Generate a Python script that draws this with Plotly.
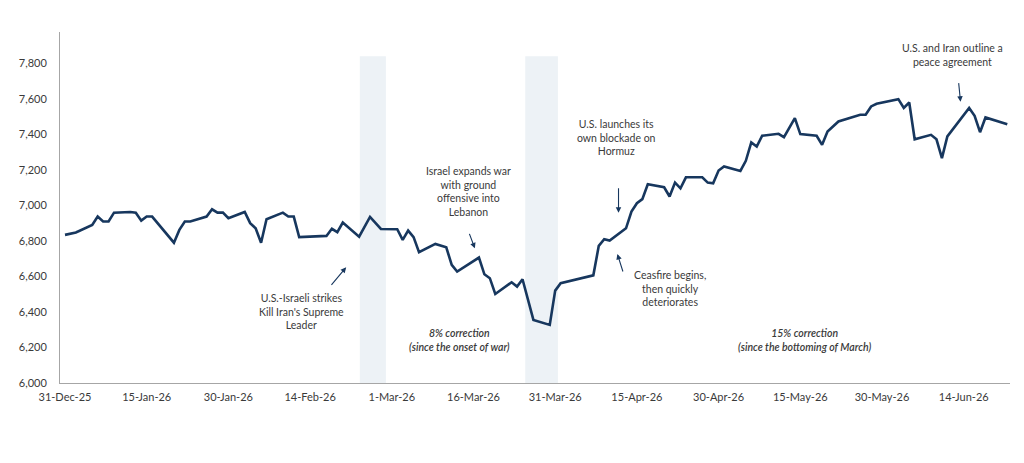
import plotly.graph_objects as go

# ---- data ----
dates = [
    "2025-12-31", "2026-01-02", "2026-01-05", "2026-01-06", "2026-01-07", "2026-01-08", "2026-01-09",
    "2026-01-12", "2026-01-13", "2026-01-14", "2026-01-15", "2026-01-16",
    "2026-01-20", "2026-01-21", "2026-01-22", "2026-01-23",
    "2026-01-26", "2026-01-27", "2026-01-28", "2026-01-29", "2026-01-30",
    "2026-02-02", "2026-02-03", "2026-02-04", "2026-02-05", "2026-02-06",
    "2026-02-09", "2026-02-10", "2026-02-11", "2026-02-12",
    "2026-02-17", "2026-02-18", "2026-02-19", "2026-02-20",
    "2026-02-23", "2026-02-25", "2026-02-27",
    "2026-03-02", "2026-03-03", "2026-03-04", "2026-03-05", "2026-03-06",
    "2026-03-09", "2026-03-11", "2026-03-12", "2026-03-13",
    "2026-03-17", "2026-03-18", "2026-03-19", "2026-03-20",
    "2026-03-23", "2026-03-24", "2026-03-25", "2026-03-27",
    "2026-03-30", "2026-03-31", "2026-04-01",
    "2026-04-07", "2026-04-08", "2026-04-09", "2026-04-10",
    "2026-04-13", "2026-04-14", "2026-04-15", "2026-04-16", "2026-04-17",
    "2026-04-20", "2026-04-21", "2026-04-22", "2026-04-23", "2026-04-24",
    "2026-04-27", "2026-04-28", "2026-04-29", "2026-04-30", "2026-05-01",
    "2026-05-04", "2026-05-05", "2026-05-06", "2026-05-07", "2026-05-08",
    "2026-05-11", "2026-05-12", "2026-05-14", "2026-05-15",
    "2026-05-18", "2026-05-19", "2026-05-20", "2026-05-22",
    "2026-05-26", "2026-05-27", "2026-05-28", "2026-05-29",
    "2026-06-02", "2026-06-03", "2026-06-04", "2026-06-05",
    "2026-06-08", "2026-06-09", "2026-06-10", "2026-06-11",
    "2026-06-15", "2026-06-16", "2026-06-17", "2026-06-18",
    "2026-06-22",
]
values = [
    6834, 6847, 6890, 6937, 6909, 6909, 6959,
    6963, 6959, 6914, 6937, 6937,
    6790, 6862, 6909, 6909,
    6937, 6978, 6959, 6959, 6928,
    6963, 6900, 6871, 6790, 6922,
    6959, 6937, 6937, 6821,
    6828, 6868, 6849, 6903,
    6824, 6935, 6867,
    6866, 6806, 6858, 6821, 6736,
    6783, 6764, 6665, 6627,
    6706, 6612, 6590, 6501,
    6567, 6543, 6584, 6355,
    6327, 6520, 6562,
    6606, 6772, 6810, 6802,
    6871, 6965, 7012, 7035, 7119,
    7102, 7050, 7128, 7096, 7158,
    7158, 7128, 7124, 7196, 7219,
    7194, 7251, 7354, 7331, 7392,
    7403, 7384, 7491, 7401,
    7392, 7341, 7416, 7472,
    7510, 7510, 7557, 7572,
    7598, 7548, 7579, 7372,
    7397, 7372, 7266, 7388,
    7548, 7504, 7412, 7495,
    7457,
]

x_tick_vals = ["2025-12-31", "2026-01-15", "2026-01-30", "2026-02-14", "2026-03-01", "2026-03-16",
               "2026-03-31", "2026-04-15", "2026-04-30", "2026-05-15", "2026-05-30", "2026-06-14"]
x_tick_text = ["31-Dec-25", "15-Jan-26", "30-Jan-26", "14-Feb-26", "1-Mar-26", "16-Mar-26",
               "31-Mar-26", "15-Apr-26", "30-Apr-26", "15-May-26", "30-May-26", "14-Jun-26"]
y_tick_vals = [6000, 6200, 6400, 6600, 6800, 7000, 7200, 7400, 7600, 7800]

shade_starts = ["2026-02-23 03:00", "2026-03-25 12:00"]
shade_ends = ["2026-02-27 22:00", "2026-03-31 12:00"]
shade_top = 7840

LINE = "#17375e"
TEXT = "#3a3a3a"
FONT = "Lato"

fig = go.Figure()
fig.add_trace(go.Scatter(x=dates, y=values, mode="lines",
                         line=dict(color=LINE, width=2.6), hoverinfo="x+y"))

for s, e in zip(shade_starts, shade_ends):
    fig.add_shape(type="rect", xref="x", yref="y", x0=s, x1=e, y0=6000, y1=shade_top,
                  fillcolor="#edf2f6", line=dict(width=0), layer="below")

# event labels (paper coords)
labels = [
    ("U.S.-Israeli strikes<br>Kill Iran's Supreme<br>Leader", 0.2544, 0.2023, False),
    ("Israel expands war<br>with ground<br>offensive into<br>Lebanon", 0.4298, 0.5462, False),
    ("U.S. launches its<br>own blockade on<br>Hormuz", 0.5860, 0.7000, False),
    ("Ceasfire begins,<br>then quickly<br>deteriorates", 0.6421, 0.2698, False),
    ("U.S. and Iran outline a<br>peace agreement", 0.9397, 0.9336, False),
    ("<i>8% correction</i><br><i>(since the onset of war)</i>", 0.4203, 0.1225, True),
    ("<i>15% correction</i><br><i>(since the bottoming of March)</i>", 0.7832, 0.1225, True),
]
for txt, px, py, it in labels:
    fig.add_annotation(text=txt, xref="paper", yref="paper", x=px, y=py,
                       xanchor="center", yanchor="middle", showarrow=False,
                       font=dict(family=FONT, size=10.5, color=TEXT,
                                 weight=600 if it else 400))

# arrows: (tip x, tip y, tail dx, tail dy)
arrows = [
    ("2026-02-20 15:00", 6651, -16, 19),
    ("2026-03-16 06:00", 6758, -6, -16),
    ("2026-04-11 15:00", 6959, 0, -26),
    ("2026-04-11 10:00", 6726, 6, 19),
    ("2026-06-13 10:00", 7584, -2, -20),
]
for ax_, ay_, dx, dy in arrows:
    fig.add_annotation(text="", x=ax_, y=ay_, xref="x", yref="y", ax=dx, ay=dy,
                       showarrow=True, arrowhead=2, arrowsize=1, arrowwidth=1.1,
                       arrowcolor=LINE, standoff=0, startstandoff=0)

fig.update_layout(
    width=1024, height=463,
    margin=dict(l=60, r=14, t=32, b=80),
    paper_bgcolor="white", plot_bgcolor="white",
    showlegend=False,
    font=dict(family=FONT, size=11, color=TEXT),
    xaxis=dict(type="date", range=["2025-12-30 02:00", "2026-06-22 12:00"],
               tickvals=x_tick_vals, ticktext=x_tick_text, showgrid=False, zeroline=False,
               showline=True, linecolor="#a6a6a6", linewidth=1, ticks="",
               tickfont=dict(family=FONT, size=11, color=TEXT), ticklabelstandoff=4),
    yaxis=dict(range=[6000, 7976], tickvals=y_tick_vals, tickformat=",", showgrid=False,
               zeroline=False, showline=True, linecolor="#a6a6a6", linewidth=1, ticks="",
               tickfont=dict(family=FONT, size=11, color=TEXT), ticklabelstandoff=10),
)

fig.write_html("out.html")
